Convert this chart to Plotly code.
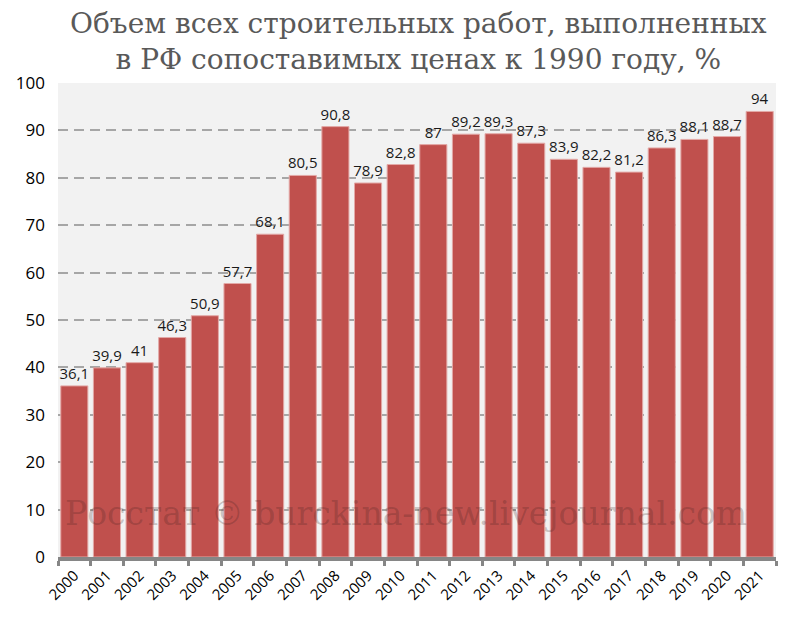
import plotly.graph_objects as go

# ── Data ──────────────────────────────────────────────────────────────────────
years = [str(y) for y in range(2000, 2022)]
values = [36.1, 39.9, 41, 46.3, 50.9, 57.7, 68.1, 80.5, 90.8, 78.9, 82.8,
          87, 89.2, 89.3, 87.3, 83.9, 82.2, 81.2, 86.3, 88.1, 88.7, 94]
y_ticks = [0, 10, 20, 30, 40, 50, 60, 70, 80, 90, 100]

labels = [f"{v:g}".replace(".", ",") for v in values]

BAR = "#c0504d"
BAR_EDGE = "#e3a9a7"
GRID = "#a6a6a6"
AXIS = "#868686"

fig = go.Figure()
fig.add_trace(go.Bar(
    x=years, y=values,
    marker=dict(color=BAR, line=dict(color=BAR_EDGE, width=1)),
    text=labels, textposition="outside", cliponaxis=False, constraintext="none",
    textfont=dict(family="Open Sans, DejaVu Sans, sans-serif", size=15, color="#1a1a1a"),
    hoverinfo="x+y",
))

# title (as annotation so both lines sit where they should)
fig.add_annotation(
    text="Объем всех строительных работ, выполненных<br>"
         "в РФ сопоставимых ценах к 1990 году, %",
    xref="paper", yref="paper", x=0.502, y=1.088,
    xanchor="center", yanchor="middle", showarrow=False, borderpad=0,
    font=dict(family="DejaVu Serif, Liberation Serif, serif", size=28, color="#595959"),
)

# watermark
fig.add_annotation(
    text="Росстат © burckina-new.livejournal.com",
    xref="paper", yref="paper", x=0.485, y=0.046, showarrow=False,
    font=dict(family="DejaVu Serif, Liberation Serif, serif", size=33,
              color="rgba(60,30,30,0.24)"),
)

# page body has an 8px margin, so the figure is 8px smaller each way
fig.update_layout(
    width=792, height=615,
    margin=dict(l=50, r=24, t=75, b=66),
    plot_bgcolor="#f2f2f2",
    paper_bgcolor="white",
    bargap=0.17,
    showlegend=False,
    font=dict(family="Open Sans, DejaVu Sans, sans-serif", color="black"),
)

fig.update_xaxes(
    type="category", tickangle=-45, automargin=False,
    tickfont=dict(size=15, color="black"),
    showline=True, linecolor=AXIS, linewidth=4,
    ticks="outside", tickson="boundaries", ticklen=5, tickwidth=3, tickcolor=AXIS,
    showgrid=False,
)
fig.update_yaxes(
    range=[0, 100], tickvals=y_ticks, automargin=False,
    tickfont=dict(size=17, color="black"), ticklabelstandoff=12,
    showgrid=True, gridcolor=GRID, griddash="10px,6px", gridwidth=1.5,
    zeroline=False, showline=False, ticks="",
)

fig.write_html("out.html")
